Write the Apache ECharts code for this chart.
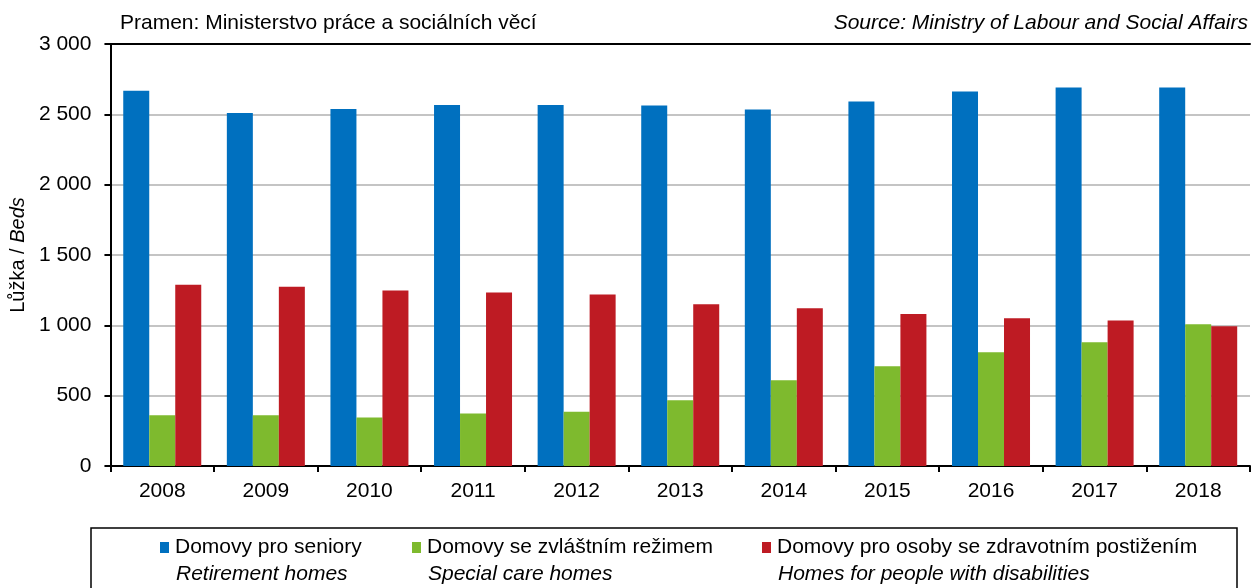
<!DOCTYPE html>
<html>
<head>
<meta charset="utf-8">
<script src="https://cdn.jsdelivr.net/npm/echarts@6/dist/echarts.min.js"></script>
<style>
  html, body { margin: 0; padding: 0; background: #fff; }
  #chart { width: 1252px; height: 588px; }
</style>
</head>
<body>
<div id="chart"></div>
<script>
// Beds in social care homes, 2008–2018
const years = ['2008', '2009', '2010', '2011', '2012', '2013', '2014', '2015', '2016', '2017', '2018'];
const retirementHomes = [2667, 2510, 2538, 2567, 2567, 2563, 2535, 2592, 2663, 2690, 2690];
const specialCareHomes = [360, 360, 344, 374, 386, 468, 610, 709, 809, 879, 1007];
const disabilityHomes = [1289, 1275, 1248, 1233, 1219, 1149, 1121, 1080, 1050, 1035, 994];

const seriesNames = ['Domovy pro seniory', 'Domovy se zvláštním režimem', 'Domovy pro osoby se zdravotním postižením'];
const seriesNamesEn = ['Retirement homes', 'Special care homes', 'Homes for people with disabilities'];
const colors = ['#0070BF', '#7EBA2E', '#BE1B23'];

const FONT = '"Liberation Sans", Arial, sans-serif';
const FS = 21;
const legendX = [155, 407, 757];

const chart = echarts.init(document.getElementById('chart'), null, { renderer: 'canvas' });

const fmt = v => String(v).replace(/\B(?=(\d{3})+(?!\d))/g, ' ');

chart.setOption({
  animation: false,
  textStyle: { fontFamily: FONT },
  grid: { left: 107, right: 2, top: 44, bottom: 122, containLabel: false },
  xAxis: [{
    type: 'category',
    data: years,
    axisLine: { lineStyle: { color: '#000', width: 2 } },
    axisTick: { show: true, alignWithLabel: false, length: 6, lineStyle: { color: '#000', width: 2 } },
    axisLabel: { color: '#000', fontSize: FS, margin: 15, fontFamily: FONT }
  }, {
    type: 'category',
    position: 'top',
    data: years,
    axisLine: { show: true, lineStyle: { color: '#000', width: 2 } },
    axisTick: { show: false },
    axisLabel: { show: false }
  }],
  yAxis: {
    type: 'value',
    min: 0,
    max: 3000,
    interval: 500,
    axisLine: { show: true, lineStyle: { color: '#000', width: 2 } },
    axisTick: { show: true, length: 6, inside: false, lineStyle: { color: '#000', width: 2 } },
    axisLabel: { color: '#000', fontSize: FS, margin: 19, formatter: fmt, fontFamily: FONT },
    splitLine: { show: true, lineStyle: { color: '#C4C4C4', width: 2 } },
    name: '{a|Lůžka / }{b|Beds}',
    nameLocation: 'middle',
    nameRotate: 90,
    nameGap: 82,
    nameTextStyle: {
      rich: {
        a: { fontSize: 20, color: '#000', fontFamily: FONT },
        b: { fontSize: 20, color: '#000', fontStyle: 'italic', fontFamily: FONT }
      }
    }
  },
  legend: seriesNames.map((n, i) => ({
    data: [n],
    left: legendX[i],
    top: 532,
    icon: 'rect',
    itemWidth: 9,
    itemHeight: 11,
    itemGap: 10,
    textStyle: { fontSize: FS, color: '#000', fontFamily: FONT, padding: [0, 0, 0, 1] }
  })),
  graphic: [
    {
      type: 'rect',
      shape: { x: 91, y: 528, width: 1146, height: 70 },
      style: { fill: 'none', stroke: '#000', lineWidth: 1.5 },
      silent: true
    },
    {
      type: 'text', left: 120, top: 13,
      style: { text: 'Pramen: Ministerstvo práce a sociálních věcí', fontSize: FS, fill: '#000', fontFamily: FONT }
    },
    {
      type: 'text', right: 4, top: 13,
      style: { text: 'Source: Ministry of Labour and Social Affairs', fontSize: FS, fontStyle: 'italic', fill: '#000', fontFamily: FONT }
    }
  ].concat(seriesNamesEn.map((t, i) => ({
    type: 'text', left: legendX[i] + 21, top: 564,
    style: { text: t, fontSize: FS, fontStyle: 'italic', fill: '#000', fontFamily: FONT }
  }))),
  series: [
    { name: seriesNames[0], type: 'bar', data: retirementHomes, barWidth: 26, barGap: '0%', itemStyle: { color: colors[0] } },
    { name: seriesNames[1], type: 'bar', data: specialCareHomes, barWidth: 26, barGap: '0%', itemStyle: { color: colors[1] } },
    { name: seriesNames[2], type: 'bar', data: disabilityHomes, barWidth: 26, barGap: '0%', itemStyle: { color: colors[2] } }
  ]
});
</script>
</body>
</html>
